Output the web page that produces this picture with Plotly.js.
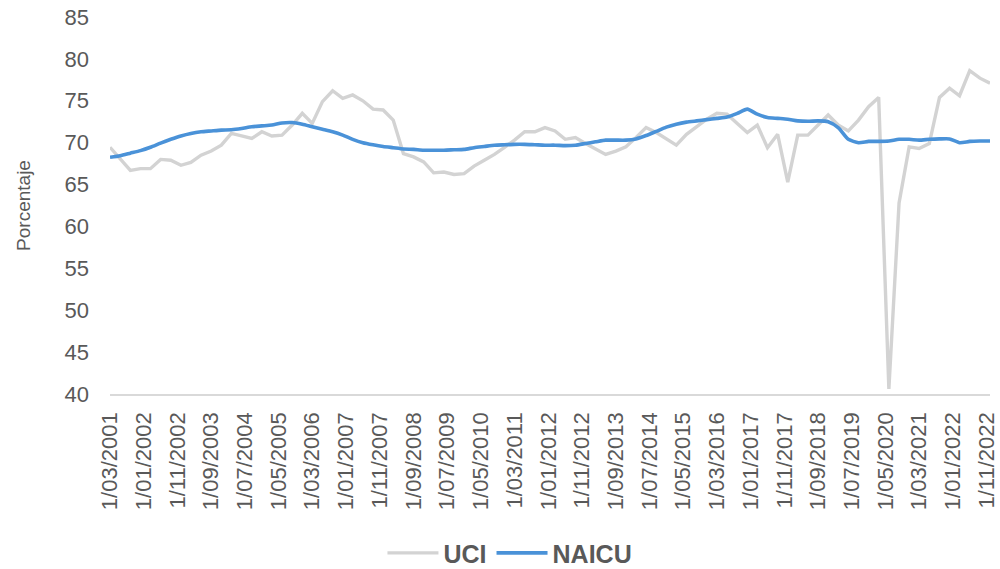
<!DOCTYPE html>
<html>
<head>
<meta charset="utf-8">
<script src="https://cdn.plot.ly/plotly-3.0.1.min.js"></script>
<style>html,body{margin:0;padding:0;background:#fff;}#chart{width:1000px;height:569px;}</style>
</head>
<body>
<div id="chart"></div>
<script>
// Quarterly observations, first one 1/03/2001
const startYear = 2001, startMonth = 3, stepMonths = 3;
const seriesNames = ["UCI", "NAICU"];
const uci = [69.45,68.0,66.7,66.9,66.9,68.0,67.9,67.3,67.65,68.5,69.0,69.7,71.1,70.8,70.5,71.3,70.8,70.9,72.1,73.5,
  72.3,74.9,76.2,75.3,75.7,75.0,74.0,73.9,72.7,68.7,68.3,67.7,66.4,66.5,66.2,66.3,67.2,67.9,68.6,69.45,
  70.3,71.3,71.3,71.8,71.4,70.4,70.6,69.9,69.3,68.6,69.0,69.5,70.6,71.8,71.2,70.4,69.7,71.0,71.9,72.8,
  73.5,73.4,72.3,71.2,72.1,69.4,71.0,65.3,70.9,70.9,72.1,73.3,72.1,71.4,72.7,74.3,75.4,40.6,62.8,69.5,
  69.3,69.9,75.4,76.5,75.6,78.6,77.7,77.1];
const naicu = [68.25,68.45,68.75,69.05,69.45,69.95,70.4,70.8,71.1,71.3,71.4,71.5,71.55,71.7,71.9,72.0,72.1,72.35,72.4,72.2,
  71.9,71.6,71.3,70.9,70.4,70.0,69.75,69.55,69.4,69.25,69.2,69.1,69.1,69.1,69.15,69.2,69.4,69.55,69.7,69.75,
  69.8,69.8,69.75,69.7,69.7,69.65,69.7,69.9,70.1,70.3,70.3,70.3,70.45,70.85,71.35,71.85,72.2,72.45,72.6,72.75,
  72.9,73.05,73.5,74.0,73.4,73.0,72.9,72.8,72.6,72.55,72.6,72.5,71.8,70.4,70.0,70.15,70.15,70.2,70.4,70.4,
  70.3,70.4,70.45,70.45,70.0,70.15,70.2,70.2];

function dateAt(i){
  const m = startMonth - 1 + i*stepMonths;
  const y = startYear + Math.floor(m/12);
  const mm = (m % 12) + 1;
  return y + "-" + String(mm).padStart(2,"0") + "-01";
}
const dates = uci.map((_, i) => dateAt(i));

const font = "Arial, 'Liberation Sans', sans-serif";
const traces = [
  {x: dates, y: uci, name: seriesNames[0], type: "scatter", mode: "lines",
   line: {color: "#d3d3d3", width: 3.4}},
  {x: dates, y: naicu, name: seriesNames[1], type: "scatter", mode: "lines",
   line: {color: "#4a92d8", width: 3.6, shape: "spline", smoothing: 0.6}}
];
const layout = {
  width: 1000, height: 569,
  margin: {l: 110, r: 10, t: 17, b: 175, autoexpand: false},
  paper_bgcolor: "#fff", plot_bgcolor: "#fff",
  font: {family: font, color: "#595959", size: 22},
  showlegend: true,
  legend: {orientation: "h", x: 0.4545, xanchor: "center", y: -0.422, yanchor: "middle",
    font: {family: font, size: 25, color: "#595959", weight: "bold"}, itemwidth: 51,
    traceorder: "normal"},
  xaxis: {type: "date", range: [dates[0], dates[dates.length-1]],
    tick0: dates[0], dtick: "M10", tickformat: "%-d/%m/%Y", tickangle: -90,
    showgrid: false, zeroline: false, showline: true, linecolor: "#d9d9d9", linewidth: 1.5,
    ticks: "", ticklabelstandoff: 8, tickfont: {family: font, size: 22, color: "#595959"}},
  yaxis: {range: [40, 85], dtick: 5, tick0: 40, showgrid: false, zeroline: false, showline: false,
    ticks: "", ticklabelstandoff: 20, tickfont: {family: font, size: 22, color: "#595959"},
    title: {text: "Porcentaje", font: {family: font, size: 19, color: "#595959"}, standoff: 28}}
};
Plotly.newPlot("chart", traces, layout, {displayModeBar: false, staticPlot: true});
</script>
</body>
</html>
